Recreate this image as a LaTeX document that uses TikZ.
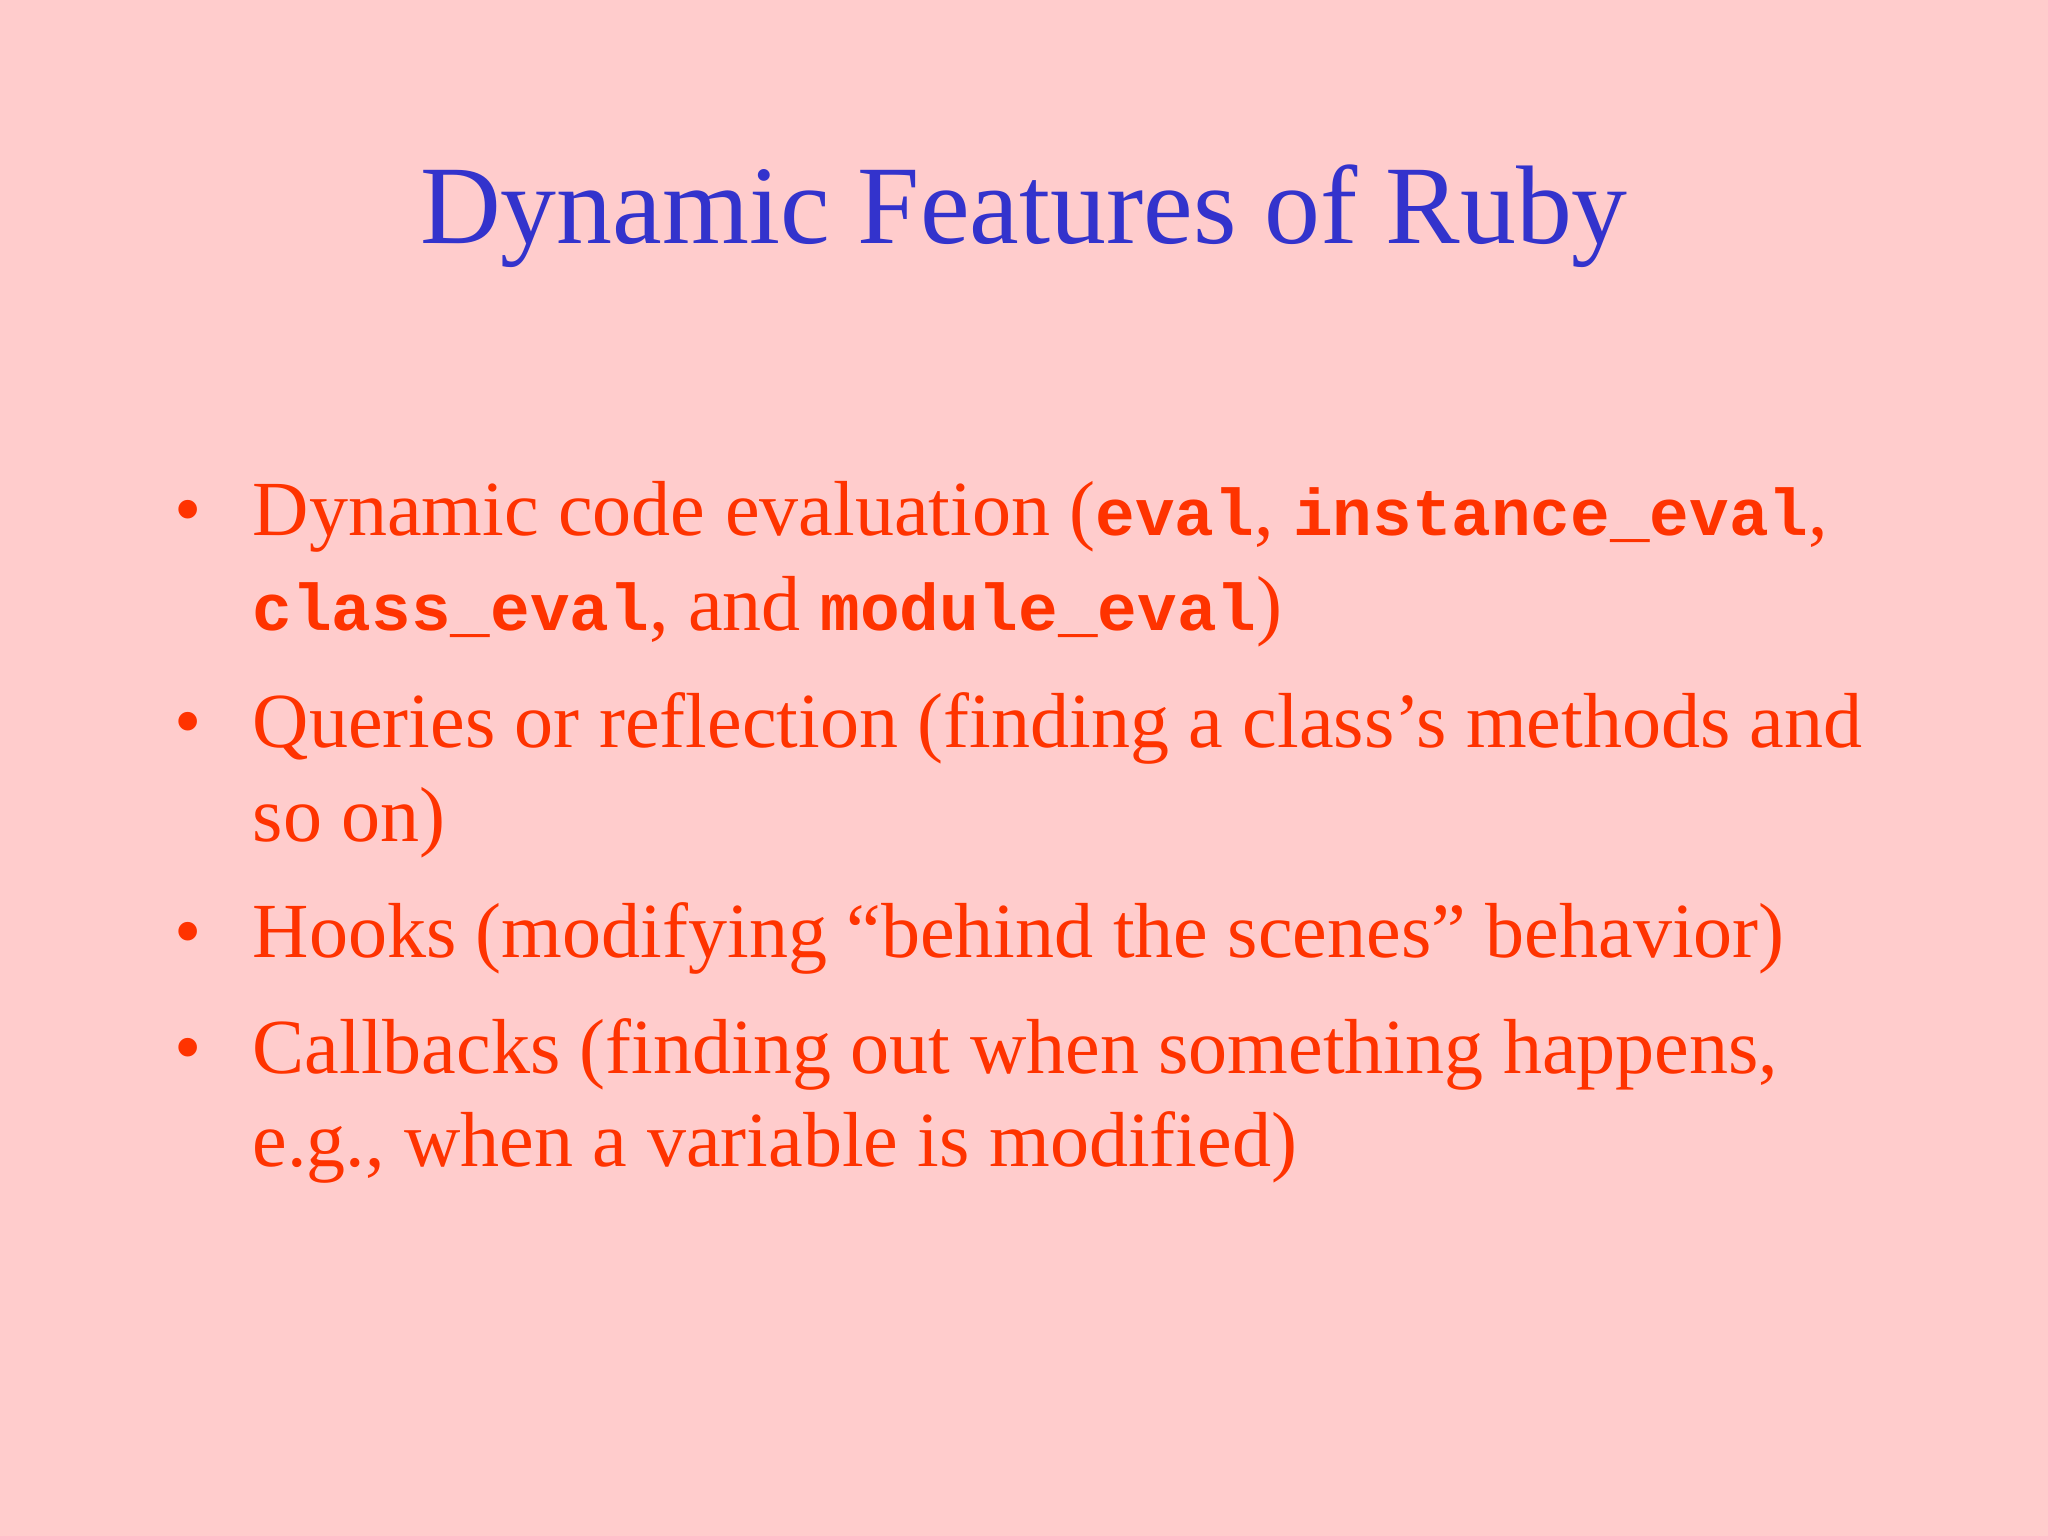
\documentclass[tikz,border=0pt]{standalone}
\usepackage{fontspec}
\setmainfont{Liberation Serif}
\setmonofont{Liberation Mono}
\definecolor{bg}{HTML}{FFCCCC}
\definecolor{ttl}{HTML}{3333CC}
\definecolor{txt}{HTML}{FF3300}
\newcommand{\cd}[1]{{\fontsize{18.8pt}{20pt}\selectfont\ttfamily\bfseries #1}}
\begin{document}
\begin{tikzpicture}[
  line/.style={anchor=base west,inner sep=0pt,text=txt,font=\fontsize{22.2pt}{26pt}\selectfont},
  bul/.style={anchor=base west,inner sep=0pt,text=txt,font=\fontsize{22.2pt}{26pt}\selectfont}]
\fill[bg] (0,0) rectangle (20.48,-15.36);
\useasboundingbox (0,0) rectangle (20.48,-15.36);
\node[anchor=base,inner sep=0pt,text=ttl,font=\fontsize{31.8pt}{36pt}\selectfont] (title) at (10.24,-2.44) {Dynamic Features of Ruby};
\node[bul] (b1) at (1.74,-5.35) {•};
\node[line] (l1) at (2.52,-5.35) {Dynamic code evaluation (\cd{eval}, \cd{instance\_eval},};
\node[line] (l2) at (2.52,-6.31) {\cd{class\_eval}, and \cd{module\_eval})};
\node[bul] (b2) at (1.74,-7.47) {•};
\node[line] (l3) at (2.52,-7.47) {Queries or reflection (finding a class’s methods and};
\node[line] (l4) at (2.52,-8.42) {so on)};
\node[bul] (b3) at (1.74,-9.57) {•};
\node[line] (l5) at (2.52,-9.57) {Hooks (modifying “behind the scenes” behavior)};
\node[bul] (b4) at (1.74,-10.73) {•};
\node[line] (l6) at (2.52,-10.73) {Callbacks (finding out when something happens,};
\node[line] (l7) at (2.52,-11.66) {e.g., when a variable is modified)};
\end{tikzpicture}
\end{document}
